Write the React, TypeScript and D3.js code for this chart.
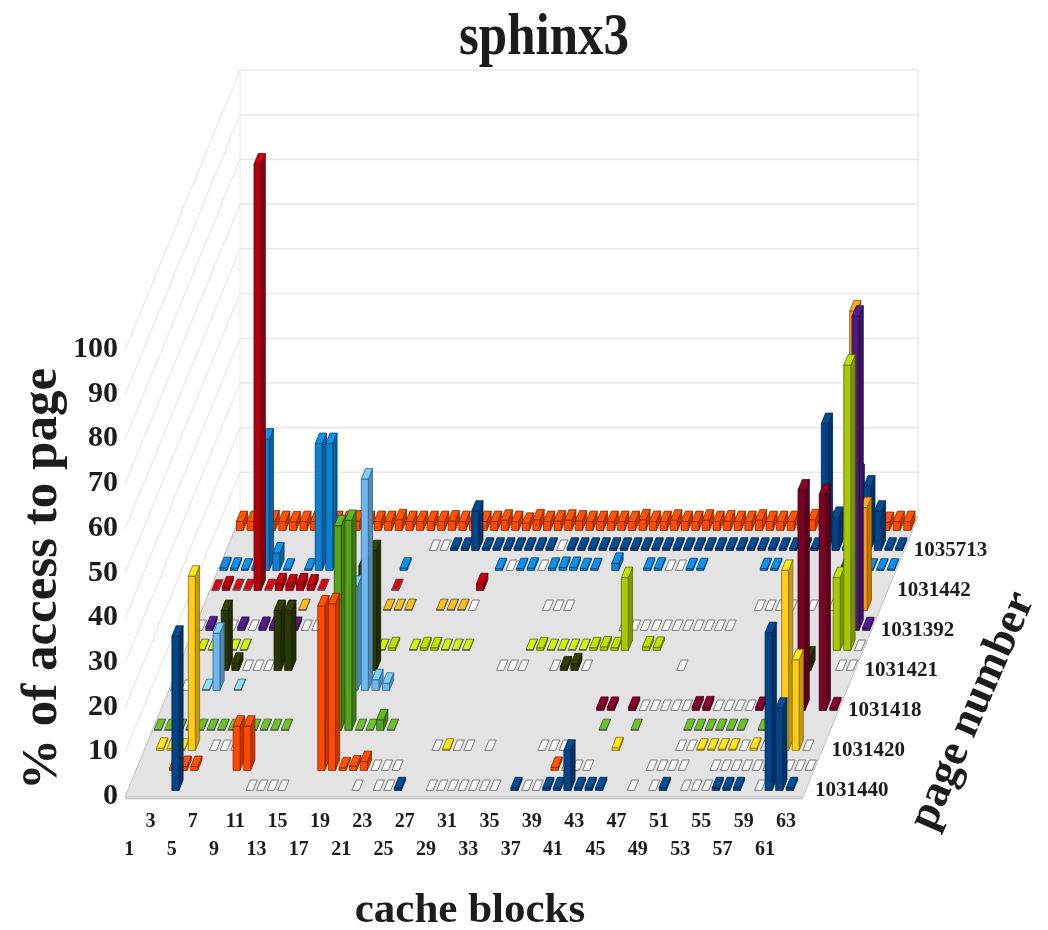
import React from "react";
import * as d3 from "d3";

type P = [number, number];
const title = "sphinx3";
const yTicks = [0, 10, 20, 30, 40, 50, 60, 70, 80, 90, 100];
const blockCount = 64;
const rowCount = 14;
const pageLabels = ["1031440", "1031420", "1031418", "1031421", "1031392", "1031442", "1035713"];

const range = (a: number, b: number, v = 0): P[] => d3.range(a, b + 1).map((c) => [c, v] as P);

const row0: P[] = [[5,34.5],[12,0],[13,0],[14,0],[15,0],[22,0],[24,0],[25,0],[26,.6],...range(29,35),[37,.6],[38,0],[39,0],[40,.6],[41,.6],[42,9],[43,.6],[44,.6],[45,.6],[48,0],[50,0],[51,.6],[53,0],[54,0],[55,0],[56,.6],[57,.6],[58,.6],[60,0],[61,35.3],[62,18.4],[63,.6]];
const row1: P[] = [[4,.5],[5,.9],[6,.9],[10,9.9],[11,9.9],[18,36.8],[19,37.3],[20,.6],[21,1],[22,2],[23,0],[24,0],[25,0],[40,.7],[41,0],[42,0],[43,0],[49,0],[50,0],[51,0],[52,0],...range(55,60),[62,0],[63,0],[64,0]];
const row2: P[] = [[2,.5],[3,.4],[4,.3],[5,39],[7,0],[8,0],[9,0],[28,0],[29,.3],[30,0],[31,0],[33,0],[38,0],[39,0],[40,0],[45,.6],[51,0],[52,0],[53,.3],[54,.3],[55,.3],[56,.3],[57,0],[58,.5],[59,0],[61,40.3],[62,20.3],[63,0]];
const row3: P[] = [[1,.2],[2,.2],[3,.2],[4,.2],[5,.2],[6,.2],[7,.2],[8,.2],[9,.2],[10,.2],[11,.2],[12,.2],[13,.2],[18,45.8],[19,47],[20,.2],[21,.2],[22,2.4],[23,.2],[43,.2],[46,.2],[51,.2],[52,.2],[53,.2],[54,.2],[55,.2],[56,.2],[58,.2]];
const row4: P[] = [[42,.7],[43,.7],[45,.7],...range(46,50),[51,.8],[52,.8],...range(53,56),[57,.7],[61,49.3],[63,48.3],[64,.6]];
const row5: P[] = [[1,0],[2,0],[4,.2],[5,12.8],[7,.2],[18,23.3],[19,47.3],[20,2.4],[21,1.6]];
const row6: P[] = [[5,13.4],[6,1.6],[7,0],[8,0],[9,0],[10,13.4],[11,13.4],[18,23.4],[19,26.8],[31,0],[32,0],[33,0],[36,0],[37,.8],[38,1.5],[39,0],[48,0],[60,3],[63,0],[64,0]];
const row7: P[] = [[2,.2],[3,.2],[5,.2],[6,.2],[19,.2],[20,.6],[22,.2],[23,.6],[24,.6],[25,.2],[26,.2],[27,.2],[33,.2],[34,.6],[35,.2],[36,.2],[37,.2],[38,.2],[39,.6],[40,.8],[41,.6],[42,16.3],[44,.8],[45,.7],[62,16.3],[63,63.8],[64,0]];
const row8: P[] = [[1,0],[2,.8],[4,0],[5,.7],[6,0],[7,.7],[8,.7],[9,.7],[10,.7],[11,0],[12,0],...range(41,51),[62,14.4],[63,70.3],[64,.6]];
const row9: P[] = [[10,.2],[18,.2],[19,.2],[20,.2],[23,.2],[24,.2],[25,.2],[26,0],[33,0],[34,0],[35,0],[53,0],[54,0],[55,0],[56,0],[58,0],[60,0],[62,67],[63,23]];
const row10: P[] = [[1,.1],[2,.8],[3,.2],[4,.2],[5,95.4],[6,.2],[7,1.5],[8,1.2],[9,1.5],[10,1.2],[11,.2],[18,.2],[26,1.5]];
const row11: P[] = [[1,.6],[2,.5],[3,.3],[4,.5],[5,29.4],[6,3.9],[7,.3],[9,.3],[10,28.4],[11,28.4],[18,.5],[27,.4],[28,0],[29,.4],[30,.5],[31,0],[32,.5],[33,.7],[34,.7],[35,.4],[36,.4],[38,1.6],[41,.5],[42,.5],[43,0],[44,0],[45,.4],[46,.4],[52,.4],[53,.4],[62,.3],[63,.3],[64,.3]];
const row12: P[] = [[20,0],[21,0],[22,.5],[23,.5],[24,8.8],...range(25,31,.5),[32,0],...range(33,56,.5),[57,28.4],[58,7.4],[59,.5],[60,17],[61,14.4],[62,8.8],[63,.5],[64,.5]];
const row13Heights = [2,2,2,2.1,2,1.9,2,2,2.2,2,2,2.1,2,2,2,2.4,2,2,2,2,2.1,2,2,2,2,2.3,2,1.6,2.4,2,2.1,2.3,2.1,2,2,2,2,2,2.4,2,2,2.3,2,2,2.3,2,2.1,2,2,2.3,2,2,2,2.1,2.4,2.2,2.1,2,2,1.6,2,1.8,2,2];
const row13: P[] = row13Heights.map((v, i) => [i + 1, v] as P);
const rows = [row0,row1,row2,row3,row4,row5,row6,row7,row8,row9,row10,row11,row12,row13];

const rowColors = ["#004487","#ff4a05","#ffcc18","#55a01c","#7c0028","#6db8f0","#2a3800","#a8c800","#4c1a80","#ff9a08","#b4000e","#0a80d2","#004487","#ff4a05"];

const X0 = 125, X1 = 803, BY = 797, DX = 115, DY = -280, PXV = 447;
const sx = d3.scaleLinear().domain([0, blockCount]).range([X0, X1]);
const sdx = d3.scaleLinear().domain([0, rowCount]).range([0, DX]);
const sdy = d3.scaleLinear().domain([0, rowCount]).range([BY, BY + DY]);
const sv = d3.scaleLinear().domain([0, 100]).range([0, PXV]);
const pt = (x: number, d: number, v: number): P => [sx(x) + sdx(d), sdy(d) - sv(v)];
const poly = (ps: P[]) => ps.map((p) => p.map((n) => n.toFixed(1)).join(",")).join(" ");
const serif = "'Liberation Serif', 'Times New Roman', serif";

function Bar({ col, row, value, color }: { col: number; row: number; value: number; color: string }) {
  const x0 = col - 1 + 0.17, x1 = col - 1 + 0.83, d0 = row + 0.33, d1 = row + 0.85;
  const zero = value === 0;
  const base = d3.color(color)!;
  const small = value < 0.3;
  const top = zero ? "#f8f8f8" : small ? base.brighter(0.6).formatHex() : base.brighter(0.35).formatHex();
  const side = base.darker(0.8).formatHex();
  const stroke = zero ? "#707070" : small ? "#555" : base.darker(1.8).formatHex();
  return (
    <g stroke={stroke} strokeWidth={zero ? 0.9 : 0.8} strokeLinejoin="round">
      {!zero && <polygon points={poly([pt(x1, d0, 0), pt(x1, d1, 0), pt(x1, d1, value), pt(x1, d0, value)])} fill={side} />}
      {!zero && <polygon points={poly([pt(x0, d0, 0), pt(x1, d0, 0), pt(x1, d0, value), pt(x0, d0, value)])} fill={color} />}
      <polygon points={poly([pt(x0, d0, value), pt(x1, d0, value), pt(x1, d1, value), pt(x0, d1, value)])} fill={top} />
    </g>
  );
}

export default function App() {
  return (
    <svg width={1048} height={930} viewBox="0 0 1048 930" style={{ position: "absolute", left: 0, top: 0, background: "#fff" }}>
      <defs>
        <filter id="soft" x="-5%" y="-5%" width="110%" height="110%">
          <feGaussianBlur stdDeviation="0.75" />
        </filter>
      </defs>
      <g filter="url(#soft)">
        {yTicks.map((t) => {
          const a = pt(0, 0, t), b = pt(0, rowCount, t), c = pt(blockCount, rowCount, t);
          return (
            <g key={t}>
              <line x1={a[0]} y1={a[1]} x2={b[0]} y2={b[1]} stroke="#e0e0e0" strokeWidth={0.9} />
              <line x1={b[0]} y1={b[1]} x2={c[0]} y2={c[1]} stroke="#e8e8e8" strokeWidth={1.6} />
            </g>
          );
        })}
        <line x1={pt(0, rowCount, 0)[0]} y1={pt(0, rowCount, 0)[1]} x2={pt(0, rowCount, 100)[0]} y2={pt(0, rowCount, 100)[1]} stroke="#e8e8e8" strokeWidth={1} />
        <line x1={pt(blockCount, rowCount, 0)[0]} y1={pt(blockCount, rowCount, 0)[1]} x2={pt(blockCount, rowCount, 100)[0]} y2={pt(blockCount, rowCount, 100)[1]} stroke="#e8e8e8" strokeWidth={1.4} />
        <polygon points={poly([pt(0, 0, 0), pt(blockCount, 0, 0), pt(blockCount, rowCount, 0), pt(0, rowCount, 0)])} fill="#e3e3e3" stroke="#b8b8b8" strokeWidth={0.8} />
        <rect x={X0} y={BY} width={X1 - X0} height={2.5} fill="#cfcfcf" />
        {d3.range(rowCount - 1, -1, -1).map((r) => (
          <g key={r}>
            {rows[r].map(([c, v]) => (
              <Bar key={c} col={c} row={r} value={v} color={rowColors[r]} />
            ))}
          </g>
        ))}
      </g>
      <g fontFamily={serif} fontWeight="bold" fill="#1c1c1c" filter="url(#soft)">
        <text transform="translate(544,54) scale(1,1.15)" textAnchor="middle" fontSize={51}>{title}</text>
        {yTicks.map((t) => (
          <text key={t} x={118} y={pt(0, 0, t)[1] + 7} textAnchor="end" fontSize={30}>{t}</text>
        ))}
        {d3.range(1, blockCount, 2).map((c, i) => (
          <text key={c} x={sx(c - 0.5) - 1} y={i % 2 === 1 ? 827 : 855} textAnchor="middle" fontSize={20}>{c}</text>
        ))}
        {pageLabels.map((p, i) => (
          <text key={p} x={pt(blockCount, i * 2 + 0.5, 0)[0] + 8} y={pt(0, i * 2 + 0.5, 0)[1] + 9} fontSize={21}>{p}</text>
        ))}
        <text transform="translate(56,790) rotate(-90)" fontSize={51}>% of access to page</text>
        <text x={470} y={922} textAnchor="middle" fontSize={43}>cache blocks</text>
        <text transform="translate(933,832) rotate(-66.5)" fontSize={45}>page number</text>
      </g>
    </svg>
  );
}
